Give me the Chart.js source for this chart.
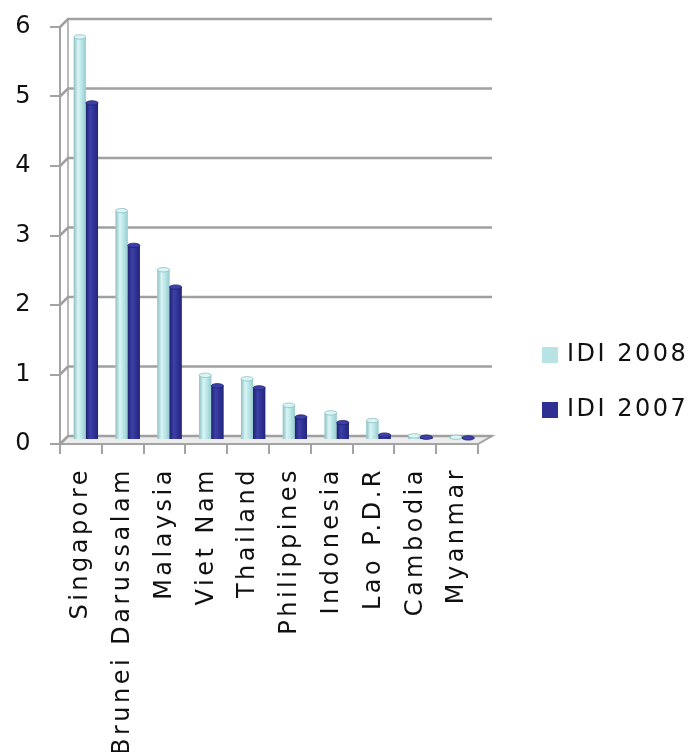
<!DOCTYPE html>
<html>
<head>
<meta charset="utf-8">
<script src="https://cdn.jsdelivr.net/npm/chart.js@4"></script>
<style>
  html, body { margin: 0; padding: 0; background: #fff; }
  #wrap { width: 691px; height: 752px; }
</style>
</head>
<body>
<div id="wrap"><canvas id="idiChart" width="691" height="752"></canvas></div>
<script>
const countries = ['Singapore', 'Brunei Darussalam', 'Malaysia', 'Viet Nam', 'Thailand',
                   'Philippines', 'Indonesia', 'Lao P.D.R', 'Cambodia', 'Myanmar'];
const idi2008 = [5.8, 3.3, 2.45, 0.93, 0.88, 0.5, 0.39, 0.28, 0.06, 0.04];
const idi2007 = [4.85, 2.8, 2.2, 0.78, 0.75, 0.33, 0.25, 0.07, 0.04, 0.03];
const seriesNames = ['IDI 2008', 'IDI 2007'];
const yTicks = [0, 1, 2, 3, 4, 5, 6];

const FONT = 'DejaVu Sans, Verdana, sans-serif';
const AXIS_GRAY = '#a3a3a3';
const DEPTH_L = 8, DEPTH_R = 14, DEPTH_Y = 8;

// back wall grid, floor and the little perspective joins
const wallPlugin = {
  id: 'wall',
  beforeDraw(chart) {
    chart.ctx.letterSpacing = '3.5px';
  },
  beforeDatasetsDraw(chart) {
    const { ctx, chartArea: a, scales: { y } } = chart;
    ctx.save();
    ctx.letterSpacing = '0px';
    // floor
    const y0 = y.getPixelForValue(0);
    ctx.beginPath();
    ctx.moveTo(a.left, y0);
    ctx.lineTo(a.right, y0);
    ctx.lineTo(a.right + DEPTH_R, y0 - DEPTH_Y);
    ctx.lineTo(a.left + DEPTH_L, y0 - DEPTH_Y);
    ctx.closePath();
    ctx.fillStyle = '#ececec';
    ctx.fill();
    ctx.strokeStyle = AXIS_GRAY;
    ctx.lineWidth = 2;
    ctx.stroke();
    // gridlines on the back wall
    ctx.lineWidth = 2.5;
    ctx.strokeStyle = '#a0a0a0';
    yTicks.forEach(v => {
      const py = y.getPixelForValue(v);
      ctx.beginPath();
      ctx.moveTo(a.left, py);
      ctx.lineTo(a.left + DEPTH_L, py - DEPTH_Y);
      ctx.lineTo(a.right + DEPTH_R, py - DEPTH_Y);
      ctx.stroke();
    });
    // left edge of the back wall
    ctx.lineWidth = 1.5;
    ctx.beginPath();
    ctx.moveTo(a.left + DEPTH_L, y.getPixelForValue(6) - DEPTH_Y);
    ctx.lineTo(a.left + DEPTH_L, y0 - DEPTH_Y);
    ctx.stroke();
    ctx.restore();
    // bars sit half way into the box
    ctx.save();
    ctx.translate(5, -4);
  },
  afterDatasetsDraw(chart) {
    const { ctx } = chart;
    const shades = [
      ['#8dbfc2', '#d9f5f6', '#b4e2e4', '#98cacd'],
      ['#1f2170', '#3c40a8', '#2e3192', '#24267a']
    ];
    chart.data.datasets.forEach((ds, di) => {
      const meta = chart.getDatasetMeta(di);
      const s = shades[di];
      meta.data.forEach(bar => {
        const l = bar.x - bar.width / 2, r = bar.x + bar.width / 2;
        const g = ctx.createLinearGradient(l, 0, r, 0);
        g.addColorStop(0, s[0]);
        g.addColorStop(0.35, s[1]);
        g.addColorStop(0.7, s[2]);
        g.addColorStop(1, s[3]);
        ctx.fillStyle = g;
        ctx.fillRect(l, bar.y, bar.width, bar.base - bar.y);
        // rounded top cap
        ctx.beginPath();
        ctx.ellipse(bar.x, bar.y, bar.width / 2, 2.2, 0, 0, Math.PI * 2);
        ctx.fillStyle = s[1];
        ctx.fill();
        ctx.strokeStyle = s[0];
        ctx.lineWidth = 0.8;
        ctx.stroke();
      });
    });
    ctx.restore();
  },
  afterDraw(chart) {
    // legend on the right
    const { ctx } = chart;
    ctx.save();
    ctx.letterSpacing = '2.5px';
    ctx.font = '24px ' + FONT;
    ctx.textBaseline = 'middle';
    chart.data.datasets.forEach((ds, i) => {
      const cy = 355 + i * 55;
      ctx.fillStyle = ds.backgroundColor;
      ctx.fillRect(542, cy - 8, 16, 16);
      ctx.fillStyle = '#111';
      ctx.fillText(ds.label, 567, cy);
    });
    ctx.restore();
  }
};

new Chart(document.getElementById('idiChart'), {
  type: 'bar',
  data: {
    labels: countries,
    datasets: [
      { label: seriesNames[0], data: idi2008, backgroundColor: '#b7e3e5' },
      { label: seriesNames[1], data: idi2007, backgroundColor: '#2e3192' }
    ]
  },
  options: {
    responsive: false,
    animation: false,
    layout: { padding: { top: 27, right: 213, left: 0, bottom: 0 } },
    datasets: { bar: { categoryPercentage: 0.58, barPercentage: 1 } },
    plugins: { legend: { display: false }, tooltip: { enabled: false } },
    scales: {
      x: {
        grid: { drawOnChartArea: false, drawTicks: true, tickLength: 10, color: AXIS_GRAY, lineWidth: 2 },
        border: { display: true, color: AXIS_GRAY, width: 2 },
        ticks: { minRotation: 90, maxRotation: 90, autoSkip: false, padding: 13,
                 color: '#111', font: { family: FONT, size: 24 } },
        afterFit(scale) { scale.height = 308; }
      },
      y: {
        min: 0, max: 6,
        grid: { drawOnChartArea: false, drawTicks: true, tickLength: 10, color: AXIS_GRAY, lineWidth: 2 },
        border: { display: true, color: AXIS_GRAY, width: 2 },
        ticks: { stepSize: 1, padding: 16, color: '#111', font: { family: FONT, size: 24 } },
        afterFit(scale) {
          scale.width = 60;
          scale.paddingTop = 0;
          scale.paddingBottom = 0;
        }
      }
    }
  },
  plugins: [wallPlugin]
});
</script>
</body>
</html>
